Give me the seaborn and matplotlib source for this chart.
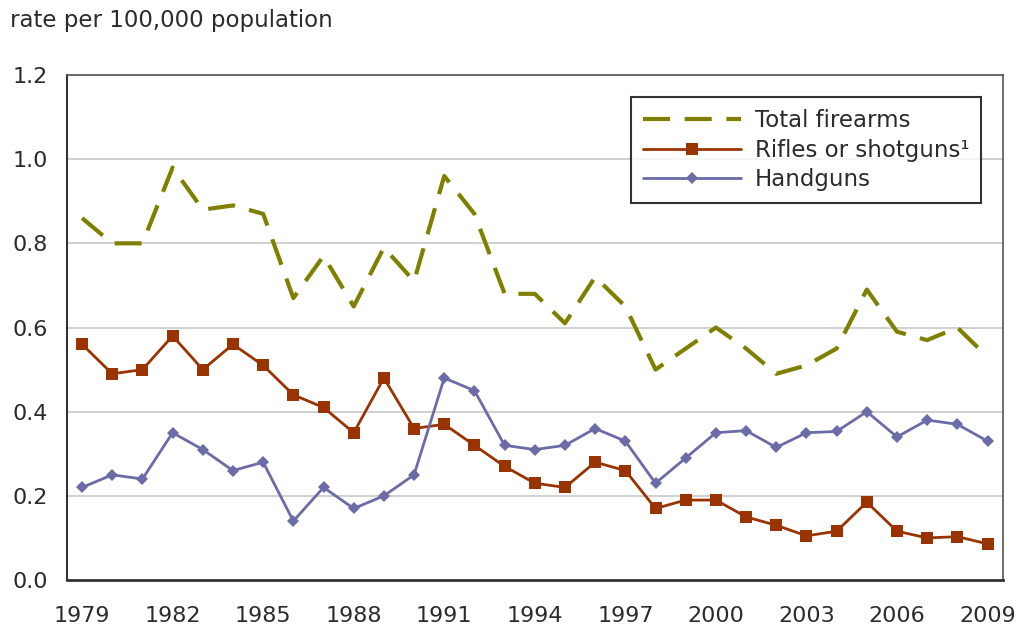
import pandas as pd
import matplotlib
matplotlib.use("Agg")
import matplotlib.pyplot as plt
import seaborn as sns

# Data (rate per 100,000 population)
years = list(range(1979, 2010))
total_firearms = [0.86, 0.80, 0.80, 0.98, 0.88, 0.89, 0.87, 0.67, 0.77, 0.65, 0.79, 0.71,
                  0.96, 0.87, 0.68, 0.68, 0.61, 0.72, 0.65, 0.50, 0.55, 0.60, 0.55, 0.49,
                  0.51, 0.55, 0.69, 0.59, 0.57, 0.60, 0.53]
rifles_shotguns = [0.56, 0.49, 0.50, 0.58, 0.50, 0.56, 0.51, 0.44, 0.41, 0.35, 0.48, 0.36,
                   0.37, 0.32, 0.27, 0.23, 0.22, 0.28, 0.26, 0.17, 0.19, 0.19, 0.15, 0.13,
                   0.105, 0.116, 0.185, 0.116, 0.10, 0.103, 0.086]
handguns = [0.22, 0.25, 0.24, 0.35, 0.31, 0.26, 0.28, 0.14, 0.22, 0.17, 0.20, 0.25,
            0.48, 0.45, 0.32, 0.31, 0.32, 0.36, 0.33, 0.23, 0.29, 0.35, 0.355, 0.315,
            0.35, 0.353, 0.40, 0.34, 0.38, 0.37, 0.33]
label_years = years[::3]

df = pd.DataFrame({"year": years, "total": total_firearms,
                   "rifles": rifles_shotguns, "handguns": handguns})

sns.set_style("white")
plt.rcParams["font.family"] = ["DejaVu Sans"]
TXT = "#2b2b2b"
FS = 16

fig = plt.figure(figsize=(10.21, 6.28), dpi=100)
ax = fig.add_axes([0.0656, 0.0764, 0.9164, 0.8042])

sns.lineplot(data=df, x="year", y="total", ax=ax, color="#808000", linewidth=3,
             label="Total firearms")
ax.lines[-1].set_dashes([6.5, 3.5])
sns.lineplot(data=df, x="year", y="rifles", ax=ax, color="#993300", linewidth=2,
             marker="s", markersize=8, markeredgewidth=0, label="Rifles or shotguns\u00b9")
sns.lineplot(data=df, x="year", y="handguns", ax=ax, color="#6B6BA8", linewidth=2,
             marker="D", markersize=6.5, markeredgewidth=0, label="Handguns")

ax.set_xlim(years[0] - 0.5, years[-1] + 0.5)
ax.set_ylim(0, 1.2)
yt = [0, 0.2, 0.4, 0.6, 0.8, 1.0, 1.2]
ax.set_yticks(yt)
ax.set_yticklabels([f"{v:.1f}" for v in yt])
ax.set_xticks(label_years)
ax.set_xticklabels([str(y) for y in label_years])
ax.set_xticks([y - 0.5 for y in years] + [years[-1] + 0.5], minor=True)
ax.tick_params(axis="x", which="major", length=0, pad=19, labelsize=FS, colors=TXT)
ax.tick_params(axis="x", which="minor", length=6, width=1.2, color="#333333", direction="out")
ax.tick_params(axis="y", length=3, width=1, color="#333333", labelsize=FS, colors=TXT, pad=11)

ax.grid(axis="y", color="#c8c8c8", linewidth=1.2)
ax.set_axisbelow(True)
ax.set_xlabel("")
ax.set_ylabel("")
for side in ["left", "bottom", "top", "right"]:
    ax.spines[side].set_visible(True)
    ax.spines[side].set_color("#333333")
ax.spines["left"].set_linewidth(1.5)
ax.spines["bottom"].set_linewidth(2)
ax.spines["top"].set_linewidth(1.2)
ax.spines["top"].set_color("#555555")
ax.spines["right"].set_linewidth(1.2)
ax.spines["right"].set_color("#555555")

leg = ax.legend(loc="upper left", bbox_to_anchor=(0.603, 0.956), fontsize=16.5,
                frameon=True, fancybox=False, handlelength=4.3, borderpad=0.5,
                labelspacing=0.3, handletextpad=0.6, borderaxespad=0)
leg.get_frame().set_edgecolor("black")
leg.get_frame().set_linewidth(1.5)
for t in leg.get_texts():
    t.set_color(TXT)

fig.text(0.01, 0.968, "rate per 100,000 population", fontsize=16.5, color=TXT,
         ha="left", va="center")

fig.savefig("out.png", dpi=100)
